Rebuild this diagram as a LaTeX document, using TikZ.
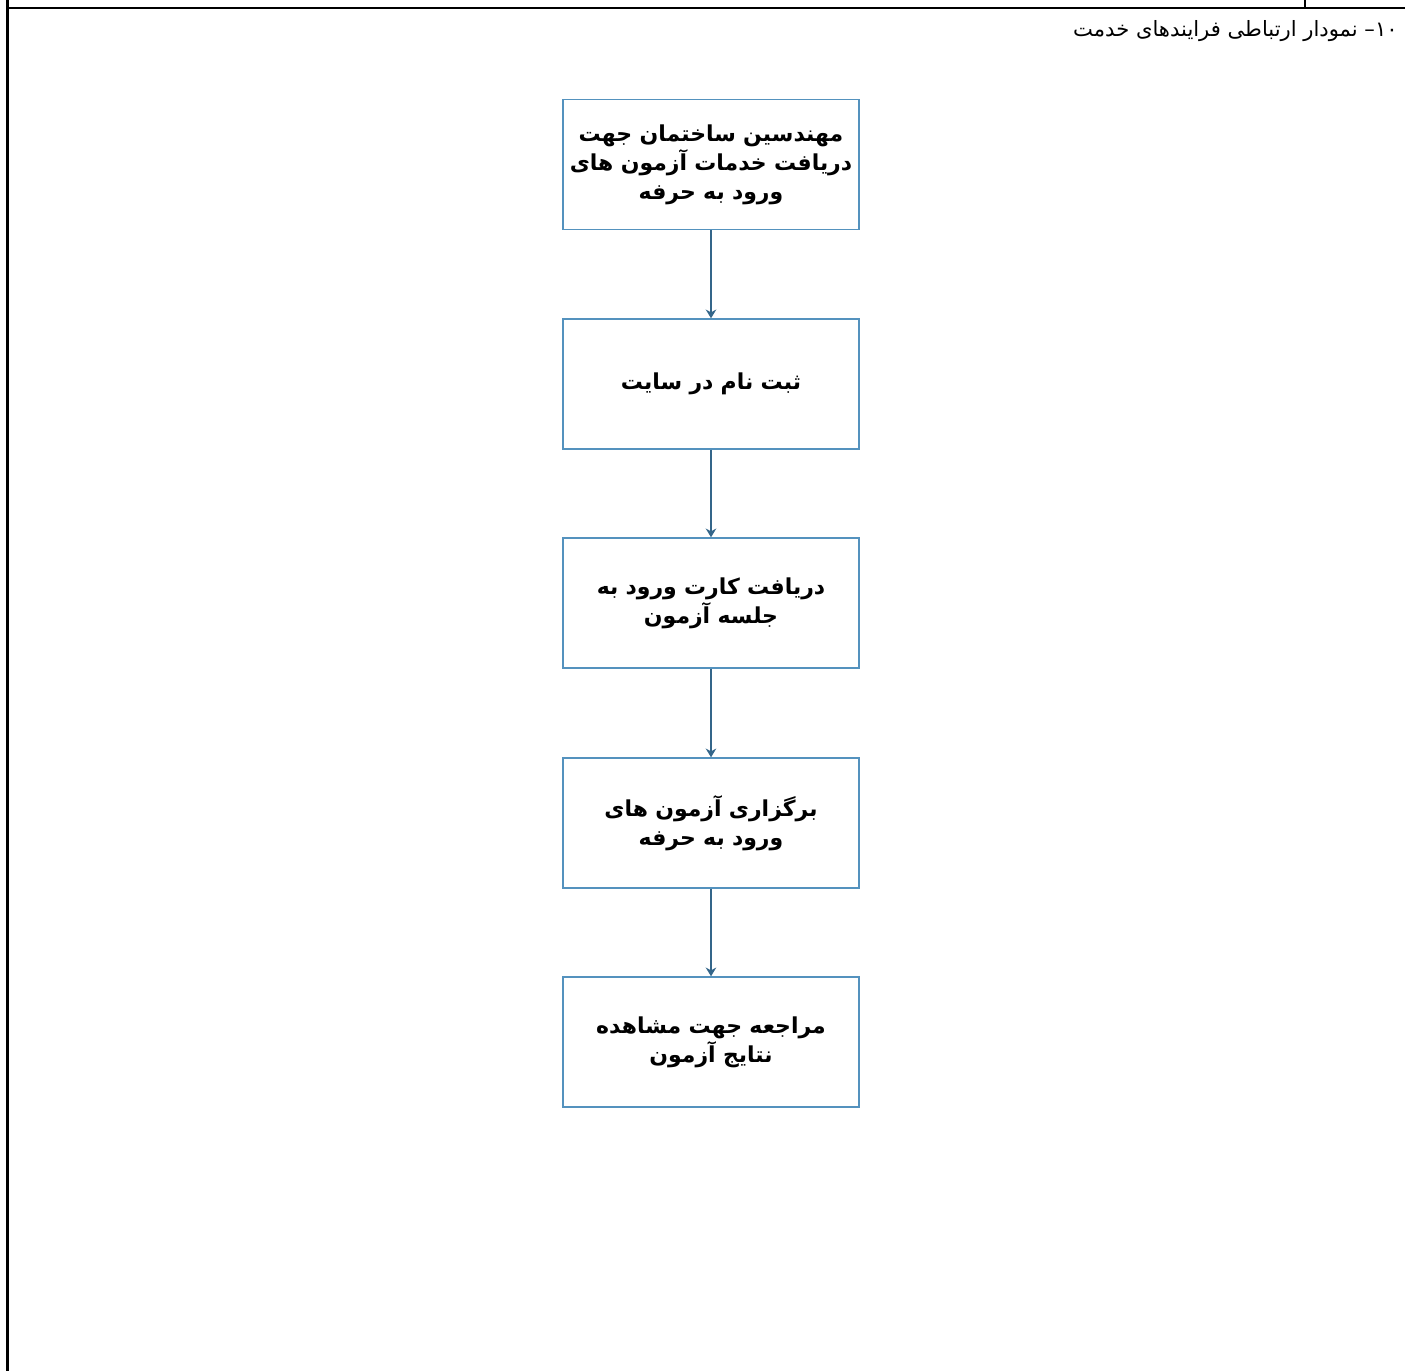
\documentclass[tikz,border=0pt]{standalone}
\usepackage{fontspec}
\usepackage{tikz}
\usetikzlibrary{arrows.meta}
\TeXXeTstate=1
\newfontfamily\arabicfont[Script=Arabic]{DejaVu Sans}
\definecolor{bordeCaja}{RGB}{84,146,190}
\definecolor{flechaAzul}{RGB}{52,102,138}

\begin{document}
\begin{tikzpicture}[
    x=0.02cm, y=-0.02cm,
    % cajas del diagrama de flujo
    caja/.style={rectangle, draw=bordeCaja, line width=0.8pt, fill=white,
        minimum width=5.92cm, minimum height=2.6cm, text width=5.8cm, inner sep=1pt,
        align=center, font=\arabicfont\bfseries\fontsize{12.5}{16.5}\selectfont},
    flecha/.style={-{Stealth[length=5pt, width=6pt]}, color=flechaAzul, line width=0.8pt},
    marco/.style={draw=black, line width=1.3pt}
]
    \useasboundingbox (0,0) rectangle (1405,1371);

    % --- MARCO DE LA PAGINA ---
    \draw[marco] (7.5,0) -- (7.5,1371);
    \draw[marco] (7.5,8) -- (1405,8);
    \draw[marco] (1305,0) -- (1305,8);

    % --- TITULO ---
    \node[anchor=east, inner sep=0pt, font=\arabicfont\fontsize{12}{15}\selectfont] (titulo) at (1398,31)
        {\beginR\beginL ۱۰\endL{}– نمودار ارتباطی فرایندهای خدمت\endR};

    % --- PASOS ---
    \node[caja] (mhndsin) at (711,164.5)
        {\beginR مهندسین ساختمان جهت\endR\\ \beginR دریافت خدمات آزمون های\endR\\ \beginR ورود به حرفه\endR};
    \node[caja] (sabtenam) at (711,384)
        {\beginR ثبت نام در سایت\endR};
    \node[caja] (kart) at (711,603)
        {\beginR دریافت کارت ورود به\endR\\ \beginR جلسه آزمون\endR};
    \node[caja] (bargozari) at (711,823)
        {\beginR برگزاری آزمون های\endR\\ \beginR ورود به حرفه\endR};
    \node[caja] (natayej) at (711,1042)
        {\beginR مراجعه جهت مشاهده\endR\\ \beginR نتایج آزمون\endR};

    % --- FLECHAS ---
    \draw[flecha] (mhndsin) -- (sabtenam);
    \draw[flecha] (sabtenam) -- (kart);
    \draw[flecha] (kart) -- (bargozari);
    \draw[flecha] (bargozari) -- (natayej);

\end{tikzpicture}
\end{document}
